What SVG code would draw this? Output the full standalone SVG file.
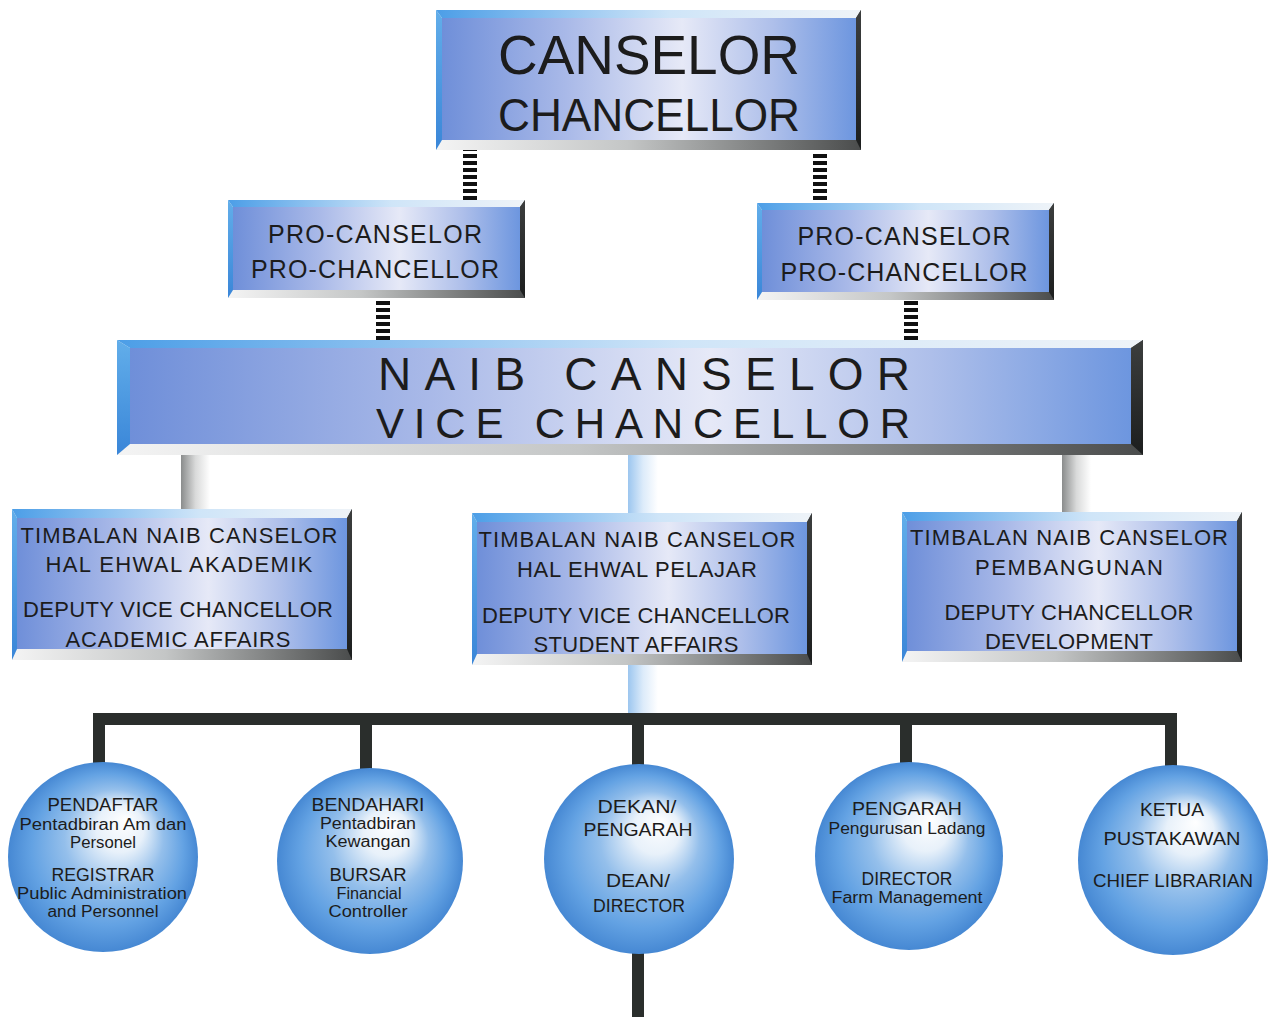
<svg xmlns="http://www.w3.org/2000/svg" width="1269" height="1017" viewBox="0 0 1269 1017">
<defs>
<linearGradient id="gFace" x1="0" y1="0" x2="1" y2="0">
<stop offset="0" stop-color="#6f8fd9"/>
<stop offset="0.3" stop-color="#a9b9e8"/>
<stop offset="0.58" stop-color="#e6e9f7"/>
<stop offset="0.8" stop-color="#aebfea"/>
<stop offset="1" stop-color="#6d96df"/>
</linearGradient>
<linearGradient id="gTop" x1="0" y1="0" x2="1" y2="0">
<stop offset="0" stop-color="#4c9ee7"/>
<stop offset="0.55" stop-color="#cfe5f8"/>
<stop offset="1" stop-color="#eef3f8"/>
</linearGradient>
<linearGradient id="gLeft" x1="0" y1="0" x2="0" y2="1">
<stop offset="0" stop-color="#62aeea"/>
<stop offset="1" stop-color="#3a86d8"/>
</linearGradient>
<linearGradient id="gBottom" x1="0" y1="0" x2="1" y2="0">
<stop offset="0" stop-color="#f4f4f4"/>
<stop offset="0.45" stop-color="#c4c6c6"/>
<stop offset="1" stop-color="#4a4c4c"/>
</linearGradient>
<linearGradient id="gRight" x1="0" y1="0" x2="0" y2="1">
<stop offset="0" stop-color="#3c3e3e"/>
<stop offset="1" stop-color="#1c1e1e"/>
</linearGradient>
<linearGradient id="gGray" x1="0" y1="0" x2="1" y2="0">
<stop offset="0" stop-color="#8a8c8c"/>
<stop offset="0.5" stop-color="#d9dada"/>
<stop offset="1" stop-color="#ffffff"/>
</linearGradient>
<linearGradient id="gBlueBar" x1="0" y1="0" x2="1" y2="0">
<stop offset="0" stop-color="#9cc6ef"/>
<stop offset="0.5" stop-color="#dcebfa"/>
<stop offset="1" stop-color="#ffffff"/>
</linearGradient>
<radialGradient id="gBall" cx="0.5" cy="0.5" r="0.5" fx="0.62" fy="0.3">
<stop offset="0" stop-color="#ffffff"/>
<stop offset="0.25" stop-color="#e8f1fa"/>
<stop offset="0.52" stop-color="#94bfeb"/>
<stop offset="0.8" stop-color="#63a2e3"/>
<stop offset="1" stop-color="#4688d3"/>
</radialGradient>
<pattern id="stripes" patternUnits="userSpaceOnUse" width="20" height="7">
<rect x="0" y="0" width="20" height="4" fill="#111"/>
</pattern>
</defs>
<style>
.t{font-family:"Liberation Sans","DejaVu Sans",sans-serif;fill:#1c1c1c;text-anchor:middle}
.big{font-size:56px}
.mid{font-size:46px}
.pro{font-size:25px}
.dep{font-size:22px}
.ct{font-size:19px}
.cs{font-size:16px}
.bus{fill:none;stroke:#2a2e2c;stroke-width:12;stroke-linejoin:miter;stroke-linecap:butt}
</style>
<rect width="1269" height="1017" fill="#ffffff"/>

<g id="connectors">
<rect x="463" y="150" width="14" height="50" fill="url(#stripes)"/>
<rect x="813" y="152" width="14" height="51" fill="url(#stripes)"/>
<rect x="376" y="298" width="14" height="42" fill="url(#stripes)"/>
<rect x="904" y="300" width="14" height="40" fill="url(#stripes)"/>
<rect x="181" y="455" width="29" height="54" fill="url(#gGray)"/>
<rect x="1062" y="455" width="29" height="57" fill="url(#gGray)"/>
<rect x="628" y="455" width="30" height="58" fill="url(#gBlueBar)"/>
<rect x="628" y="665" width="30" height="50" fill="url(#gBlueBar)"/>
<path class="bus" d="M99,765 V719 H1171 V767"/>
<path class="bus" d="M366,719 V770"/>
<path class="bus" d="M638,719 V766"/>
<path class="bus" d="M906,719 V764"/>
<path class="bus" d="M638,948 V1017"/>
</g>

<g id="canselor">
<rect x="436" y="10" width="425" height="140" fill="url(#gBottom)"/>
<rect x="442" y="18" width="414" height="122" fill="url(#gFace)"/>
<polygon points="436,10 861,10 856,18 442,18" fill="url(#gTop)"/>
<polygon points="436,10 442,18 442,140 436,150" fill="url(#gLeft)"/>
<polygon points="861,10 861,150 856,140 856,18" fill="url(#gRight)"/>
<text class="t big" x="649" y="74" textLength="302" lengthAdjust="spacingAndGlyphs">CANSELOR</text>
<text class="t mid" x="649" y="131" textLength="302" lengthAdjust="spacingAndGlyphs">CHANCELLOR</text>
</g>

<g id="pro-canselor-1">
<rect x="228" y="200" width="297" height="98" fill="url(#gBottom)"/>
<rect x="233" y="207" width="287" height="83" fill="url(#gFace)"/>
<polygon points="228,200 525,200 520,207 233,207" fill="url(#gTop)"/>
<polygon points="228,200 233,207 233,290 228,298" fill="url(#gLeft)"/>
<polygon points="525,200 525,298 520,290 520,207" fill="url(#gRight)"/>
<text class="t pro" x="375" y="243" textLength="214">PRO-CANSELOR</text>
<text class="t pro" x="375" y="278" textLength="248">PRO-CHANCELLOR</text>
</g>

<g id="pro-canselor-2">
<rect x="757" y="203" width="297" height="97" fill="url(#gBottom)"/>
<rect x="762" y="210" width="287" height="82" fill="url(#gFace)"/>
<polygon points="757,203 1054,203 1049,210 762,210" fill="url(#gTop)"/>
<polygon points="757,203 762,210 762,292 757,300" fill="url(#gLeft)"/>
<polygon points="1054,203 1054,300 1049,292 1049,210" fill="url(#gRight)"/>
<text class="t pro" x="904" y="245" textLength="213">PRO-CANSELOR</text>
<text class="t pro" x="904" y="281" textLength="247">PRO-CHANCELLOR</text>
</g>

<g id="naib-canselor">
<rect x="117" y="340" width="1026" height="115" fill="url(#gBottom)"/>
<rect x="130" y="348" width="1001" height="96" fill="url(#gFace)"/>
<polygon points="117,340 1143,340 1131,348 130,348" fill="url(#gTop)"/>
<polygon points="117,340 130,348 130,444 117,455" fill="url(#gLeft)"/>
<polygon points="1143,340 1143,455 1131,444 1131,348" fill="url(#gRight)"/>
<text class="t" style="font-size:46px" x="644" y="390" textLength="532">NAIB  CANSELOR</text>
<text class="t" style="font-size:42px" x="643" y="438" textLength="534">VICE  CHANCELLOR</text>
</g>

<g id="tnc-akademik">
<rect x="12" y="509" width="340" height="151" fill="url(#gBottom)"/>
<rect x="17" y="518" width="330" height="131" fill="url(#gFace)"/>
<polygon points="12,509 352,509 347,518 17,518" fill="url(#gTop)"/>
<polygon points="12,509 17,518 17,649 12,660" fill="url(#gLeft)"/>
<polygon points="352,509 352,660 347,649 347,518" fill="url(#gRight)"/>
<text class="t dep" x="179" y="543" textLength="317">TIMBALAN NAIB CANSELOR</text>
<text class="t dep" x="179" y="572" textLength="267">HAL EHWAL AKADEMIK</text>
<text class="t dep" x="178" y="617" textLength="310">DEPUTY VICE CHANCELLOR</text>
<text class="t dep" x="178" y="647" textLength="225">ACADEMIC AFFAIRS</text>
</g>

<g id="tnc-pelajar">
<rect x="472" y="513" width="340" height="152" fill="url(#gBottom)"/>
<rect x="477" y="522" width="330" height="132" fill="url(#gFace)"/>
<polygon points="472,513 812,513 807,522 477,522" fill="url(#gTop)"/>
<polygon points="472,513 477,522 477,654 472,665" fill="url(#gLeft)"/>
<polygon points="812,513 812,665 807,654 807,522" fill="url(#gRight)"/>
<text class="t dep" x="637" y="547" textLength="317">TIMBALAN NAIB CANSELOR</text>
<text class="t dep" x="637" y="577" textLength="240">HAL EHWAL PELAJAR</text>
<text class="t dep" x="636" y="623" textLength="308">DEPUTY VICE CHANCELLOR</text>
<text class="t dep" x="636" y="652" textLength="205">STUDENT AFFAIRS</text>
</g>

<g id="tnc-pembangunan">
<rect x="902" y="512" width="340" height="150" fill="url(#gBottom)"/>
<rect x="907" y="521" width="330" height="130" fill="url(#gFace)"/>
<polygon points="902,512 1242,512 1237,521 907,521" fill="url(#gTop)"/>
<polygon points="902,512 907,521 907,651 902,662" fill="url(#gLeft)"/>
<polygon points="1242,512 1242,662 1237,651 1237,521" fill="url(#gRight)"/>
<text class="t dep" x="1069" y="545" textLength="318">TIMBALAN NAIB CANSELOR</text>
<text class="t dep" x="1069" y="575" textLength="188">PEMBANGUNAN</text>
<text class="t dep" x="1069" y="620" textLength="249">DEPUTY CHANCELLOR</text>
<text class="t dep" x="1069" y="649" textLength="168">DEVELOPMENT</text>
</g>

<g id="pendaftar">
<circle cx="103" cy="857" r="95" fill="url(#gBall)"/>
<text class="t ct" x="103" y="811" textLength="111" lengthAdjust="spacingAndGlyphs">PENDAFTAR</text>
<text class="t cs" x="103" y="830" textLength="167" lengthAdjust="spacingAndGlyphs">Pentadbiran Am dan</text>
<text class="t cs" x="103" y="848" textLength="66" lengthAdjust="spacingAndGlyphs">Personel</text>
<text class="t ct" x="103" y="881" textLength="103" lengthAdjust="spacingAndGlyphs">REGISTRAR</text>
<text class="t cs" x="102" y="899" textLength="170" lengthAdjust="spacingAndGlyphs">Public Administration</text>
<text class="t cs" x="103" y="917" textLength="111" lengthAdjust="spacingAndGlyphs">and Personnel</text>
</g>

<g id="bendahari">
<circle cx="370" cy="861" r="93" fill="url(#gBall)"/>
<text class="t ct" x="368" y="811" textLength="113" lengthAdjust="spacingAndGlyphs">BENDAHARI</text>
<text class="t cs" x="368" y="829" textLength="96" lengthAdjust="spacingAndGlyphs">Pentadbiran</text>
<text class="t cs" x="368" y="847" textLength="85" lengthAdjust="spacingAndGlyphs">Kewangan</text>
<text class="t ct" x="368" y="881" textLength="77" lengthAdjust="spacingAndGlyphs">BURSAR</text>
<text class="t cs" x="369" y="899" textLength="65" lengthAdjust="spacingAndGlyphs">Financial</text>
<text class="t cs" x="368" y="917" textLength="79" lengthAdjust="spacingAndGlyphs">Controller</text>
</g>

<g id="dekan">
<circle cx="639" cy="859" r="95" fill="url(#gBall)"/>
<text class="t ct" x="637" y="813" textLength="79" lengthAdjust="spacingAndGlyphs">DEKAN/</text>
<text class="t ct" x="638" y="836" textLength="109" lengthAdjust="spacingAndGlyphs">PENGARAH</text>
<text class="t ct" x="638" y="887" textLength="64" lengthAdjust="spacingAndGlyphs">DEAN/</text>
<text class="t ct" x="639" y="912" textLength="92" lengthAdjust="spacingAndGlyphs">DIRECTOR</text>
</g>

<g id="pengarah">
<circle cx="909" cy="856" r="94" fill="url(#gBall)"/>
<text class="t ct" x="907" y="815" textLength="110" lengthAdjust="spacingAndGlyphs">PENGARAH</text>
<text class="t cs" x="907" y="834" textLength="157" lengthAdjust="spacingAndGlyphs">Pengurusan Ladang</text>
<text class="t ct" x="907" y="885" textLength="91" lengthAdjust="spacingAndGlyphs">DIRECTOR</text>
<text class="t cs" x="907" y="903" textLength="151" lengthAdjust="spacingAndGlyphs">Farm Management</text>
</g>

<g id="ketua-pustakawan">
<circle cx="1173" cy="860" r="95" fill="url(#gBall)"/>
<text class="t ct" x="1172" y="816" textLength="64" lengthAdjust="spacingAndGlyphs">KETUA</text>
<text class="t ct" x="1172" y="845" textLength="137" lengthAdjust="spacingAndGlyphs">PUSTAKAWAN</text>
<text class="t ct" x="1173" y="887" textLength="160" lengthAdjust="spacingAndGlyphs">CHIEF LIBRARIAN</text>
</g>
</svg>
